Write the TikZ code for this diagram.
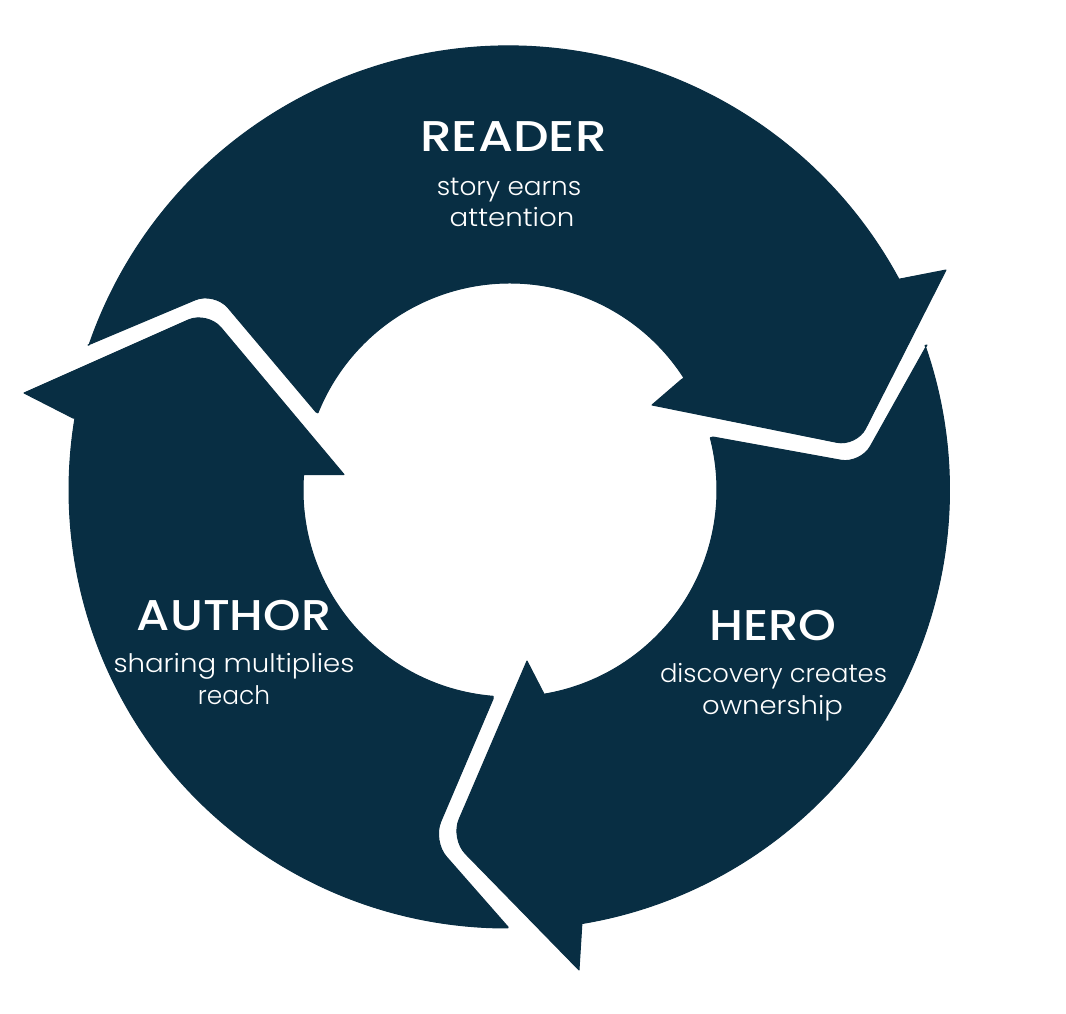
\documentclass[tikz,border=0pt]{standalone}
\usepackage{graphicx}
\usepackage{fontspec}
\usetikzlibrary{calc}
\setmainfont{Poppins}
\newfontfamily\headfont{Poppins Medium}
\newfontfamily\bodyfont{Poppins Light}
\definecolor{ringblue}{HTML}{082E43}
\tikzset{
  ringpart/.style={fill=ringblue,draw=ringblue,line width=1pt,line join=round},
  headtext/.style={text=white,inner sep=0pt,anchor=base,font=\headfont\fontsize{43}{43}\selectfont},
  bodytext/.style={text=white,inner sep=0pt,anchor=base,font=\bodyfont\fontsize{25.5}{25.5}\selectfont}
}
\begin{document}
\begin{tikzpicture}[x=1pt,y=1pt,yscale=-1]
\useasboundingbox (0,0) rectangle (1066,1014);
\fill[white] (0,0) rectangle (1066,1014);
\coordinate (c) at (510,490);
\coordinate (cr) at (508.4,489.6);
\coordinate (ca) at (507,490);
% READER arrow
\path[ringpart] (88,345) -- ($(cr)+(-161:443.6)$) arc[start angle=-161,end angle=-28.27,radius=443.6]
  -- (900,279) -- (946,270)
  [rounded corners=20pt] -- (856.5,446.3) [sharp corners] -- (652,405)
  -- (681,380) -- ($(c)+(-32.8:207)$) arc[start angle=-32.8,end angle=-158.1,radius=207]
  -- (316,412)
  [rounded corners=21pt] -- (214.5,291.7) [sharp corners] -- (88,345) -- cycle;
% HERO arrow
\path[ringpart] (527,661) -- (545,696) -- ($(c)+(-279.6:207)$) arc[start angle=-279.6,end angle=-374.6,radius=207]
  -- (713,437)
  [rounded corners=20pt] -- (860.6,463.8) [sharp corners] -- (927,345)
  -- ($(c)+(-19.2:439.5)$) arc[start angle=-19.2,end angle=80.5,radius=439.5]
  -- (582,922) -- (579,970)
  [rounded corners=21pt] -- (450.8,838.7) [sharp corners] -- (527,661) -- cycle;
% AUTHOR arrow
\path[ringpart] (24,393) [rounded corners=21pt] -- (207.4,311.5) [sharp corners] -- (344,474.5)
  -- (303,474.5) -- ($(c)+(-175.7:207)$) arc[start angle=-175.7,end angle=-265.35,radius=207]
  -- (493,699)
  [rounded corners=21pt] -- (432.5,841) [sharp corners] -- (508,927)
  -- ($(ca)+(89.87:438)$) arc[start angle=89.87,end angle=189.42,radius=438]
  -- (73,418) -- cycle;
% Labels
\node[headtext] (readerT) at (513.5,152) {\scalebox{1.168}[1]{READER}};
\node[bodytext] (readerA) at (509,195) {\scalebox{1.032}[1]{story earns}};
\node[bodytext] (readerB) at (512,226) {\scalebox{1.085}[1]{attention}};
\node[headtext] (heroT) at (773,640) {\scalebox{1.12}[1]{HERO}};
\node[bodytext] (heroA) at (773.5,682) {\scalebox{1.014}[1]{discovery creates}};
\node[bodytext] (heroB) at (772.5,714) {\scalebox{1.077}[1]{ownership}};
\node[headtext] (authorT) at (234,630) {\scalebox{1.11}[1]{AUTHOR}};
\node[bodytext] (authorA) at (234,672) {\scalebox{1.083}[1]{sharing multiplies}};
\node[bodytext] (authorB) at (234,704) {\scalebox{0.975}[1]{reach}};
\end{tikzpicture}
\end{document}
